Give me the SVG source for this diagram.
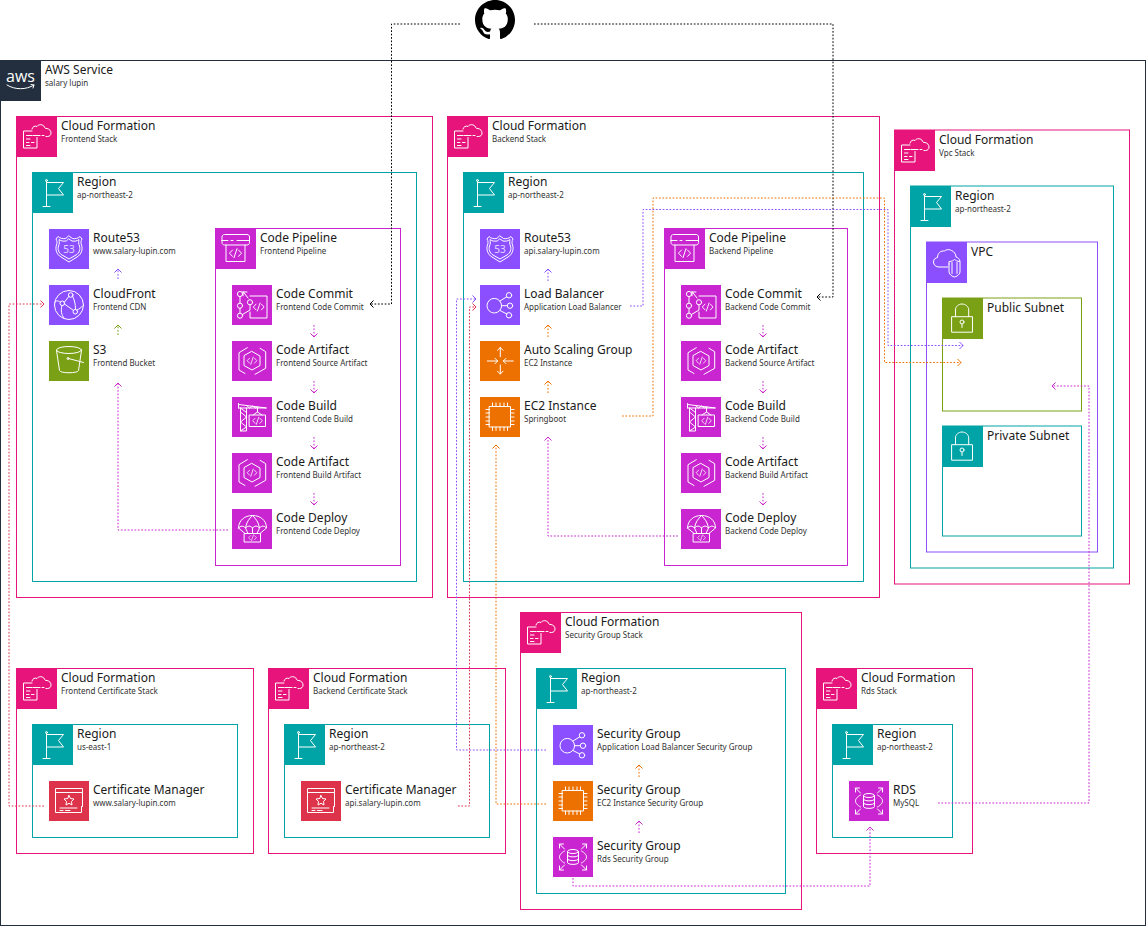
<svg xmlns="http://www.w3.org/2000/svg" width="1146" height="926" viewBox="0 0 1146 926">
<style>
text{font-family:"Noto Sans","DejaVu Sans",sans-serif;fill:#1a1a1a}
.t{font-size:12px}.s{font-size:8px;fill:#333}
.box{fill:none;stroke-width:1}
.k{stroke:#232f3e}.p{stroke:#e7157b}.r{stroke:#00a4a6}.m{stroke:#c925d1}.v{stroke:#8c4fff}.g{stroke:#7aa116}
.fk{fill:#232f3e}.fp{fill:#e7157b}.fr{fill:#00a4a6}.fm{fill:#c925d1}.fv{fill:#8c4fff}.fg{fill:#7aa116}.fo{fill:#ed7100}.fd{fill:#dd344c}
.ic{fill:none;stroke:#fff;stroke-width:1;stroke-linejoin:round;stroke-linecap:round}
.c{fill:none;stroke-width:1;stroke-dasharray:1.7 1.7}
.c0{stroke:#000;marker-end:url(#a0)}.c1{stroke:#8c4fff;marker-end:url(#a1)}.c2{stroke:#ed7100;marker-end:url(#a2)}.c3{stroke:#c925d1;marker-end:url(#a3)}.c4{stroke:#7aa116;marker-end:url(#a4)}.c5{stroke:#dd344c;marker-end:url(#a5)}
</style>
<defs>
<marker id="a0" markerUnits="userSpaceOnUse" markerWidth="12" markerHeight="12" refX="6" refY="6" orient="auto" overflow="visible"><path d="M2.5 2.5L6 6L2.5 9.5" fill="none" stroke="#000"/></marker>
<marker id="a1" markerUnits="userSpaceOnUse" markerWidth="12" markerHeight="12" refX="6" refY="6" orient="auto" overflow="visible"><path d="M2.5 2.5L6 6L2.5 9.5" fill="none" stroke="#8c4fff"/></marker>
<marker id="a2" markerUnits="userSpaceOnUse" markerWidth="12" markerHeight="12" refX="6" refY="6" orient="auto" overflow="visible"><path d="M2.5 2.5L6 6L2.5 9.5" fill="none" stroke="#ed7100"/></marker>
<marker id="a3" markerUnits="userSpaceOnUse" markerWidth="12" markerHeight="12" refX="6" refY="6" orient="auto" overflow="visible"><path d="M2.5 2.5L6 6L2.5 9.5" fill="none" stroke="#c925d1"/></marker>
<marker id="a4" markerUnits="userSpaceOnUse" markerWidth="12" markerHeight="12" refX="6" refY="6" orient="auto" overflow="visible"><path d="M2.5 2.5L6 6L2.5 9.5" fill="none" stroke="#7aa116"/></marker>
<marker id="a5" markerUnits="userSpaceOnUse" markerWidth="12" markerHeight="12" refX="6" refY="6" orient="auto" overflow="visible"><path d="M2.5 2.5L6 6L2.5 9.5" fill="none" stroke="#dd344c"/></marker>
<path id="code" d="M-3 -3.2L-6 0L-3 3.2M3 -3.2L6 0L3 3.2M1.5 -4.5L-1.5 4.5"/>
<g id="i-aws"><text x="20.5" y="82" text-anchor="middle" transform="translate(0 -60)" style="font-family:'Open Sans',sans-serif;font-size:16px;fill:#fff">aws</text><path class="ic" d="M7 25c8 5 19 5 27 0M31 24.500l3 .5l-1 3"/></g>
<g id="i-cf" class="ic"><path d="M21 21.500V32H7.500V15H16M10.500 19.500H16M10.500 23H14M10.500 26.500H13M15.500 26.500H18M10.500 29.500H14"/><path d="M16 13c.5-2.500 3-3.500 5-2.500c1.500-2.500 6-2.500 7.500 .5c.5 1.500 1 1.500 2.500 1.500c2.500 .5 4 2.300 4 4.500s-1.500 3.500-3.500 3.500H30M28 19.500H26M24 19.500H17"/></g>
<g id="i-region" class="ic"><path d="M14.500 9V34.500M11 34.500H18M14.500 10.500H31.500L26.500 16.500L31.500 23H14.500"/><circle cx="14.500" cy="8.500" r="1"/></g>
<g id="i-route53" class="ic"><path d="M20 7L23.500 9.500C26 10 29 9.500 31 7.500L33 10C32 12 31.500 13.500 32.500 16C34 20 32.500 25.500 28 28L20 33L12 28C7.500 25.500 6 20 7.500 16C8.500 13.500 8 12 7 10L9 7.500C11 9.500 14 10 16.500 9.500Z"/><path d="M20 10L23 12C26 12.500 28 12 30 10.500C29.500 13 29.500 15 30.500 17C31.500 20 30.500 24 27 26L20 30L13 26C9.500 24 8.500 20 9.500 17C10.500 15 10.500 13 10 10.500C12 12 14 12.500 17 12Z"/><text x="20" y="24" text-anchor="middle" stroke="none" style="font-size:10px;fill:#fff;font-family:'Noto Sans',sans-serif;opacity:.75">53</text></g>
<g id="i-cloudfront" class="ic"><circle cx="20" cy="20" r="14.500"/><circle cx="21.700" cy="10" r="2.300"/><circle cx="13.300" cy="18.300" r="2.300"/><circle cx="26.300" cy="26.700" r="2.300"/><path d="M15.300 17.300L19.800 11.500M15.500 19L24.300 25.300M23.500 11C25.500 15 26.500 19 26.500 24.300M13 20.500C11.500 26 12.500 30 15 33M11.300 17.300C9 15 7 15.500 5.500 17.500M28 25C30 24 32 23 33.500 21"/></g>
<g id="i-s3" class="ic"><ellipse cx="20" cy="9" rx="12.500" ry="3.500"/><path d="M7.500 9.500L10.500 29.500C11 32.500 29 32.500 29.500 29.500L32.500 9.500"/><path d="M19.500 17.500L34.500 21.500"/><circle cx="19" cy="17.500" r="1"/></g>
<g id="i-pipeline" class="ic"><path d="M7 12.500V9C7 7.500 8 6.500 9.500 6.500H32C33.500 6.500 34.500 7.500 34.500 9V12.500M7 12.500V14.500C7 16 8 17 9.500 17H32C33.500 17 34.500 16 34.500 14.500V12.500M7 12.500H13M16 12.500H18M22 12.500H34.500"/><path d="M11 17V33.500H30V17"/><use href="#code" transform="translate(20.500 25.200)"/></g>
<g id="i-commit" class="ic"><circle cx="8" cy="9" r="2.600"/><circle cx="8" cy="20.700" r="2.600"/><circle cx="8" cy="30.700" r="2.600"/><circle cx="18" cy="17.300" r="2.600"/><path d="M8 11.600V18.100M8 23.300V28.100M10.500 29.500L18 25V20M11 6.500L16 13M11 7V10.800M11 7H15"/><path d="M18 11H35V33H18V27"/><use href="#code" transform="translate(26.700 22) scale(.9)"/></g>
<g id="i-artifact" class="ic"><path d="M20 10.500L28 15V24.500L20 29L12 24.500V15Z"/><path d="M15.300 6.700L7 11.700V29L13 32.500M23 33.300L33.700 27.300V10.700L28 7.300"/><use href="#code" transform="translate(20 19.700) scale(.8)"/></g>
<g id="i-build" class="ic"><path d="M6.500 6.500V11M6.500 7.500L34.500 11H6.500M8.500 11V34H14.500V11M8.500 15L14.500 20L8.500 25L14.500 30L8.500 34M8.500 11L14.500 15.500M14.500 8.500L17.500 11L20.500 9L23.500 11L26 10M25.500 11V15M21 18L25.500 15L30 18"/><rect x="17.500" y="18" width="16" height="11.500"/><use href="#code" transform="translate(25.500 23.800) scale(.8)"/></g>
<g id="i-deploy" class="ic"><path d="M6.500 19C6.500 11.500 12.500 6.500 20.500 6.500S34.500 11.500 34.500 19C32.500 16.500 29.500 16.500 27.500 19C25.500 16.500 22.500 16.500 20.500 19C18.500 16.500 15.500 16.500 13.500 19C11.500 16.500 8.500 16.500 6.500 19Z"/><path d="M20.500 6.500C17 10 14.500 13 13.500 19L16 24.500M20.500 6.500C24 10 26.500 13 27.500 19L25 24.500M6.500 19L13 24.500M34.500 19L28 24.500M20.500 19V24.500"/><rect x="12.500" y="24.500" width="16" height="8.500"/><use href="#code" transform="translate(20.500 28.700) scale(.65)"/></g>
<g id="i-elb" class="ic"><circle cx="14.300" cy="20.700" r="7.300"/><circle cx="29" cy="10.300" r="2.700"/><circle cx="30" cy="20.700" r="2.700"/><circle cx="29" cy="30.300" r="2.700"/><path d="M20 16L26.800 11.800M21.600 20.700H27.300M20 25.500L26.800 29"/></g>
<g id="i-asg" class="ic"><path d="M20.300 6.500V15.700M17.500 9.300L20.300 6.500L23 9.300M20.300 24V33M17.500 30.200L20.300 33L23 30.200M7.300 20H17.700M15 17.300L17.700 20L15 22.700M33.300 20H23.300M26 17.300L23.300 20L26 22.700"/></g>
<g id="i-ec2" class="ic"><rect x="9.500" y="9.500" width="21" height="20.500"/><path d="M12.500 6V9.500M16 6V9.500M20 6V9.500M24 6V9.500M27.500 6V9.500M12.500 30V33.500M16 30V33.500M20 30V33.500M24 30V33.500M27.500 30V33.500M6 12.500H9.500M6 16H9.500M6 20H9.500M6 24H9.500M6 27.500H9.500M30.500 12.500H34M30.500 16H34M30.500 20H34M30.500 24H34M30.500 27.500H34"/></g>
<g id="i-rds" class="ic"><ellipse cx="20" cy="14.500" rx="5.500" ry="2"/><path d="M14.500 14.500V25.500C14.500 28 25.500 28 25.500 25.500V14.500M14.500 18.300C14.500 20.500 25.500 20.500 25.500 18.300M14.500 22C14.500 24.300 25.500 24.300 25.500 22"/><path d="M11.500 14C8 16 6.500 18 6.500 20S8 24 11.500 26M28.500 14C32 16 33.500 18 33.500 20S32 24 28.500 26"/><path d="M6.500 7L11.500 12M6.500 11V7H10.500M33.500 7L28.500 12M29.500 7H33.500V11M6.500 33L11.500 28M6.500 29V33H10.500M33.500 33L28.500 28M33.500 29V33H29.500"/></g>
<g id="i-cert" class="ic"><path d="M33.500 25.500V7.500H6.500V31.500H32.500V25.500M6.500 11.500H33.500"/><path d="M20 14.500L21.500 17.500L25 18L22.500 20.500L23 24L20 22.300L17 24L17.500 20.500L15 18L18.500 17.500Z"/><path d="M11 27H28M11 29.500H14M16.500 29.500H21"/></g>
<g id="i-vpc" class="ic"><path d="M22 25H13C10 25 7.500 23 7.500 20S9.500 16 11.500 15.500C11.500 11 15 8.500 18.500 9C20 7.500 23 7 25.500 8.500C28 9.500 30 12 30 15C32 15.500 33.500 17 34 19M23 22V30C23 32.500 27 35 28.500 35C30 35 34 32.500 34 30V19.500C31 19.500 30 18.500 28.500 17.500C27 18.500 26 19.500 23 19.500V22ZM26 20.500V31.500M31 20.500V31.500"/></g>
<g id="i-lock" class="ic"><rect x="10" y="18.700" width="20.500" height="15.500"/><path d="M13.500 18.700V12C13.500 8.500 16.500 6 20 6S26.700 8.500 26.700 12V18.700"/><circle cx="20" cy="24" r="2"/><path d="M20 26V29.500"/></g>
<g id="gh"><path transform="scale(2.500)" d="M8 0C3.580 0 0 3.580 0 8c0 3.540 2.290 6.530 5.470 7.590.4.070.55-.17.55-.38 0-.19-.01-.82-.01-1.490-2.010.37-2.530-.49-2.690-.94-.09-.23-.48-.94-.82-1.130-.28-.15-.68-.52-.01-.53.63-.01 1.080.58 1.230.82.72 1.210 1.870.87 2.330.66.07-.52.28-.87.51-1.070-1.780-.2-3.640-.89-3.640-3.950 0-.87.31-1.590.82-2.150-.08-.2-.36-1.020.08-2.120 0 0 .67-.21 2.200.82.64-.18 1.320-.27 2-.27.68 0 1.360.09 2 .27 1.530-1.040 2.200-.82 2.200-.82.44 1.100.16 1.920.08 2.120.51.56.82 1.270.82 2.150 0 3.070-1.870 3.750-3.650 3.950.29.25.54.73.54 1.480 0 1.070-.01 1.930-.01 2.200 0 .21.15.46.55.38A8.013 8.013 0 0016 8c0-4.420-3.580-8-8-8z"/></g>
</defs>

<g id="github"><use href="#gh" transform="translate(475 0)"/></g>

<g id="aws-service"><rect class="box k" x="0.500" y="60.500" width="1145" height="865"/><rect class="fk" x="0" y="60" width="41" height="41"/><use href="#i-aws" transform="translate(0 60)"/><text class="t" x="45" y="74">AWS Service</text><text class="s" x="45" y="86">salary lupin</text></g>

<g id="frontend-stack"><rect class="box p" x="16.500" y="116.500" width="416" height="481"/><rect class="fp" x="16" y="116" width="41" height="41"/><use href="#i-cf" transform="translate(16 116)"/><text class="t" x="61" y="130">Cloud Formation</text><text class="s" x="61" y="142">Frontend Stack</text></g>
<g id="frontend-region"><rect class="box r" x="32.500" y="172.500" width="384" height="409"/><rect class="fr" x="32" y="172" width="41" height="41"/><use href="#i-region" transform="translate(32 172)"/><text class="t" x="77" y="186">Region</text><text class="s" x="77" y="198">ap-northeast-2</text></g>
<g id="fe-route53"><rect class="fv" x="49" y="229" width="40" height="40"/><use href="#i-route53" transform="translate(49 229)"/><text class="t" x="93" y="242">Route53</text><text class="s" x="93" y="254">www.salary-lupin.com</text></g>
<g id="fe-cloudfront"><rect class="fv" x="49" y="285" width="40" height="40"/><use href="#i-cloudfront" transform="translate(49 285)"/><text class="t" x="93" y="298">CloudFront</text><text class="s" x="93" y="310">Frontend CDN</text></g>
<g id="fe-s3"><rect class="fg" x="49" y="341" width="40" height="40"/><use href="#i-s3" transform="translate(49 341)"/><text class="t" x="93" y="354">S3</text><text class="s" x="93" y="366">Frontend Bucket</text></g>
<g id="fe-pipeline"><rect class="box m" x="215.500" y="228.500" width="185" height="337"/><rect class="fm" x="215" y="228" width="41" height="41"/><use href="#i-pipeline" transform="translate(215 228)"/><text class="t" x="260" y="242">Code Pipeline</text><text class="s" x="260" y="254">Frontend Pipeline</text></g>
<g id="fe-commit"><rect class="fm" x="232" y="285" width="40" height="40"/><use href="#i-commit" transform="translate(232 285)"/><text class="t" x="276" y="298">Code Commit</text><text class="s" x="276" y="310">Frontend Code Commit</text></g>
<g id="fe-source-artifact"><rect class="fm" x="232" y="341" width="40" height="40"/><use href="#i-artifact" transform="translate(232 341)"/><text class="t" x="276" y="354">Code Artifact</text><text class="s" x="276" y="366">Frontend Source Artifact</text></g>
<g id="fe-build"><rect class="fm" x="232" y="397" width="40" height="40"/><use href="#i-build" transform="translate(232 397)"/><text class="t" x="276" y="410">Code Build</text><text class="s" x="276" y="422">Frontend Code Build</text></g>
<g id="fe-build-artifact"><rect class="fm" x="232" y="453" width="40" height="40"/><use href="#i-artifact" transform="translate(232 453)"/><text class="t" x="276" y="466">Code Artifact</text><text class="s" x="276" y="478">Frontend Build Artifact</text></g>
<g id="fe-deploy"><rect class="fm" x="232" y="509" width="40" height="40"/><use href="#i-deploy" transform="translate(232 509)"/><text class="t" x="276" y="522">Code Deploy</text><text class="s" x="276" y="534">Frontend Code Deploy</text></g>

<g id="backend-stack"><rect class="box p" x="447.500" y="116.500" width="432" height="481"/><rect class="fp" x="447" y="116" width="41" height="41"/><use href="#i-cf" transform="translate(447 116)"/><text class="t" x="492" y="130">Cloud Formation</text><text class="s" x="492" y="142">Backend Stack</text></g>
<g id="backend-region"><rect class="box r" x="463.500" y="172.500" width="400" height="409"/><rect class="fr" x="463" y="172" width="41" height="41"/><use href="#i-region" transform="translate(463 172)"/><text class="t" x="508" y="186">Region</text><text class="s" x="508" y="198">ap-northeast-2</text></g>
<g id="be-route53"><rect class="fv" x="480" y="229" width="40" height="40"/><use href="#i-route53" transform="translate(480 229)"/><text class="t" x="524" y="242">Route53</text><text class="s" x="524" y="254">api.salary-lupin.com</text></g>
<g id="be-lb"><rect class="fv" x="480" y="285" width="40" height="40"/><use href="#i-elb" transform="translate(480 285)"/><text class="t" x="524" y="298">Load Balancer</text><text class="s" x="524" y="310">Application Load Balancer</text></g>
<g id="be-asg"><rect class="fo" x="480" y="341" width="40" height="40"/><use href="#i-asg" transform="translate(480 341)"/><text class="t" x="524" y="354">Auto Scaling Group</text><text class="s" x="524" y="366">EC2 Instance</text></g>
<g id="be-ec2"><rect class="fo" x="480" y="397" width="40" height="40"/><use href="#i-ec2" transform="translate(480 397)"/><text class="t" x="524" y="410">EC2 Instance</text><text class="s" x="524" y="422">Springboot</text></g>
<g id="be-pipeline"><rect class="box m" x="664.500" y="228.500" width="183" height="337"/><rect class="fm" x="664" y="228" width="41" height="41"/><use href="#i-pipeline" transform="translate(664 228)"/><text class="t" x="709" y="242">Code Pipeline</text><text class="s" x="709" y="254">Backend Pipeline</text></g>
<g id="be-commit"><rect class="fm" x="681" y="285" width="40" height="40"/><use href="#i-commit" transform="translate(681 285)"/><text class="t" x="725" y="298">Code Commit</text><text class="s" x="725" y="310">Backend Code Commit</text></g>
<g id="be-source-artifact"><rect class="fm" x="681" y="341" width="40" height="40"/><use href="#i-artifact" transform="translate(681 341)"/><text class="t" x="725" y="354">Code Artifact</text><text class="s" x="725" y="366">Backend Source Artifact</text></g>
<g id="be-build"><rect class="fm" x="681" y="397" width="40" height="40"/><use href="#i-build" transform="translate(681 397)"/><text class="t" x="725" y="410">Code Build</text><text class="s" x="725" y="422">Backend Code Build</text></g>
<g id="be-build-artifact"><rect class="fm" x="681" y="453" width="40" height="40"/><use href="#i-artifact" transform="translate(681 453)"/><text class="t" x="725" y="466">Code Artifact</text><text class="s" x="725" y="478">Backend Build Artifact</text></g>
<g id="be-deploy"><rect class="fm" x="681" y="509" width="40" height="40"/><use href="#i-deploy" transform="translate(681 509)"/><text class="t" x="725" y="522">Code Deploy</text><text class="s" x="725" y="534">Backend Code Deploy</text></g>

<g id="vpc-stack"><rect class="box p" x="894.500" y="130" width="235" height="454"/><rect class="fp" x="894" y="130" width="41" height="41"/><use href="#i-cf" transform="translate(894 130)"/><text class="t" x="939" y="144">Cloud Formation</text><text class="s" x="939" y="156">Vpc Stack</text></g>
<g id="vpc-region"><rect class="box r" x="910.500" y="186" width="203" height="382"/><rect class="fr" x="910" y="186" width="41" height="41"/><use href="#i-region" transform="translate(910 186)"/><text class="t" x="955" y="200">Region</text><text class="s" x="955" y="212">ap-northeast-2</text></g>
<g id="vpc"><rect class="box v" x="926.500" y="242" width="171" height="310"/><rect class="fv" x="926" y="242" width="41" height="41"/><use href="#i-vpc" transform="translate(926 242)"/><text class="t" x="971" y="256">VPC</text></g>
<g id="public-subnet"><rect class="box g" x="942.500" y="298" width="139" height="113"/><rect class="fg" x="942" y="298" width="41" height="41"/><use href="#i-lock" transform="translate(942 298)"/><text class="t" x="987" y="312">Public Subnet</text></g>
<g id="private-subnet"><rect class="box r" x="942.500" y="426" width="139" height="110"/><rect class="fr" x="942" y="426" width="41" height="41"/><use href="#i-lock" transform="translate(942 426)"/><text class="t" x="987" y="440">Private Subnet</text></g>

<g id="sg-stack"><rect class="box p" x="520.500" y="612.500" width="281" height="297"/><rect class="fp" x="520" y="612" width="41" height="41"/><use href="#i-cf" transform="translate(520 612)"/><text class="t" x="565" y="626">Cloud Formation</text><text class="s" x="565" y="638">Security Group Stack</text></g>
<g id="sg-region"><rect class="box r" x="536.500" y="668.500" width="249" height="225"/><rect class="fr" x="536" y="668" width="41" height="41"/><use href="#i-region" transform="translate(536 668)"/><text class="t" x="581" y="682">Region</text><text class="s" x="581" y="694">ap-northeast-2</text></g>
<g id="sg-alb"><rect class="fv" x="553" y="725" width="40" height="40"/><use href="#i-elb" transform="translate(553 725)"/><text class="t" x="597" y="738">Security Group</text><text class="s" x="597" y="750">Application Load Balancer Security Group</text></g>
<g id="sg-ec2"><rect class="fo" x="553" y="781" width="40" height="40"/><use href="#i-ec2" transform="translate(553 781)"/><text class="t" x="597" y="794">Security Group</text><text class="s" x="597" y="806">EC2 Instance Security Group</text></g>
<g id="sg-rds"><rect class="fm" x="553" y="837" width="40" height="40"/><use href="#i-rds" transform="translate(553 837)"/><text class="t" x="597" y="850">Security Group</text><text class="s" x="597" y="862">Rds Security Group</text></g>

<g id="fe-cert-stack"><rect class="box p" x="16.500" y="668.500" width="237" height="185"/><rect class="fp" x="16" y="668" width="41" height="41"/><use href="#i-cf" transform="translate(16 668)"/><text class="t" x="61" y="682">Cloud Formation</text><text class="s" x="61" y="694">Frontend Certificate Stack</text></g>
<g id="fe-cert-region"><rect class="box r" x="32.500" y="724.500" width="205" height="113"/><rect class="fr" x="32" y="724" width="41" height="41"/><use href="#i-region" transform="translate(32 724)"/><text class="t" x="77" y="738">Region</text><text class="s" x="77" y="750">us-east-1</text></g>
<g id="fe-cert"><rect class="fd" x="49" y="781" width="40" height="40"/><use href="#i-cert" transform="translate(49 781)"/><text class="t" x="93" y="794">Certificate Manager</text><text class="s" x="93" y="806">www.salary-lupin.com</text></g>

<g id="be-cert-stack"><rect class="box p" x="268.500" y="668.500" width="237" height="185"/><rect class="fp" x="268" y="668" width="41" height="41"/><use href="#i-cf" transform="translate(268 668)"/><text class="t" x="313" y="682">Cloud Formation</text><text class="s" x="313" y="694">Backend Certificate Stack</text></g>
<g id="be-cert-region"><rect class="box r" x="284.500" y="724.500" width="205" height="113"/><rect class="fr" x="284" y="724" width="41" height="41"/><use href="#i-region" transform="translate(284 724)"/><text class="t" x="329" y="738">Region</text><text class="s" x="329" y="750">ap-northeast-2</text></g>
<g id="be-cert"><rect class="fd" x="301" y="781" width="40" height="40"/><use href="#i-cert" transform="translate(301 781)"/><text class="t" x="345" y="794">Certificate Manager</text><text class="s" x="345" y="806">api.salary-lupin.com</text></g>

<g id="rds-stack"><rect class="box p" x="816.500" y="668.500" width="156" height="185"/><rect class="fp" x="816" y="668" width="41" height="41"/><use href="#i-cf" transform="translate(816 668)"/><text class="t" x="861" y="682">Cloud Formation</text><text class="s" x="861" y="694">Rds Stack</text></g>
<g id="rds-region"><rect class="box r" x="832.500" y="724.500" width="120" height="113"/><rect class="fr" x="832" y="724" width="41" height="41"/><use href="#i-region" transform="translate(832 724)"/><text class="t" x="877" y="738">Region</text><text class="s" x="877" y="750">ap-northeast-2</text></g>
<g id="rds"><rect class="fm" x="849" y="781" width="40" height="40"/><use href="#i-rds" transform="translate(849 781)"/><text class="t" x="893" y="794">RDS</text><text class="s" x="893" y="806">MySQL</text></g>

<g id="connectors">
<path class="c c0" d="M460 24H391.500V304H370"/>
<path class="c c0" d="M534 24H833V297H817"/>
<path class="c c1" d="M118 279V269"/>
<path class="c c4" d="M118 335V325"/>
<path class="c c3" d="M228 530H118V383"/>
<path class="c c5" d="M44 806H9V304H44"/>
<path class="c c3" d="M314 325V337"/><path class="c c3" d="M314 381V393"/><path class="c c3" d="M314 437V449"/><path class="c c3" d="M314 493V505"/>
<path class="c c3" d="M763 325V337"/><path class="c c3" d="M763 381V393"/><path class="c c3" d="M763 437V449"/><path class="c c3" d="M763 493V505"/>
<path class="c c1" d="M548 281V269"/>
<path class="c c2" d="M548 337V325"/>
<path class="c c2" d="M548 393V381"/>
<path class="c c3" d="M678 536H548V437"/>
<path class="c c2" d="M546 804H496V445"/>
<path class="c c1" d="M546 750H456.500V299H476"/>
<path class="c c5" d="M458 806H469.500V307H476"/>
<path class="c c1" d="M630 306H643V209.500H888V345.500H963"/>
<path class="c c2" d="M622 416H653V198H884.500V362.500H961"/>
<path class="c c3" d="M938 803H1089V386H1052"/>
<path class="c c3" d="M573 878V886H870V827"/>
<path class="c c2" d="M639 777V765"/>
<path class="c c3" d="M639 833V821"/>
</g>
</svg>
